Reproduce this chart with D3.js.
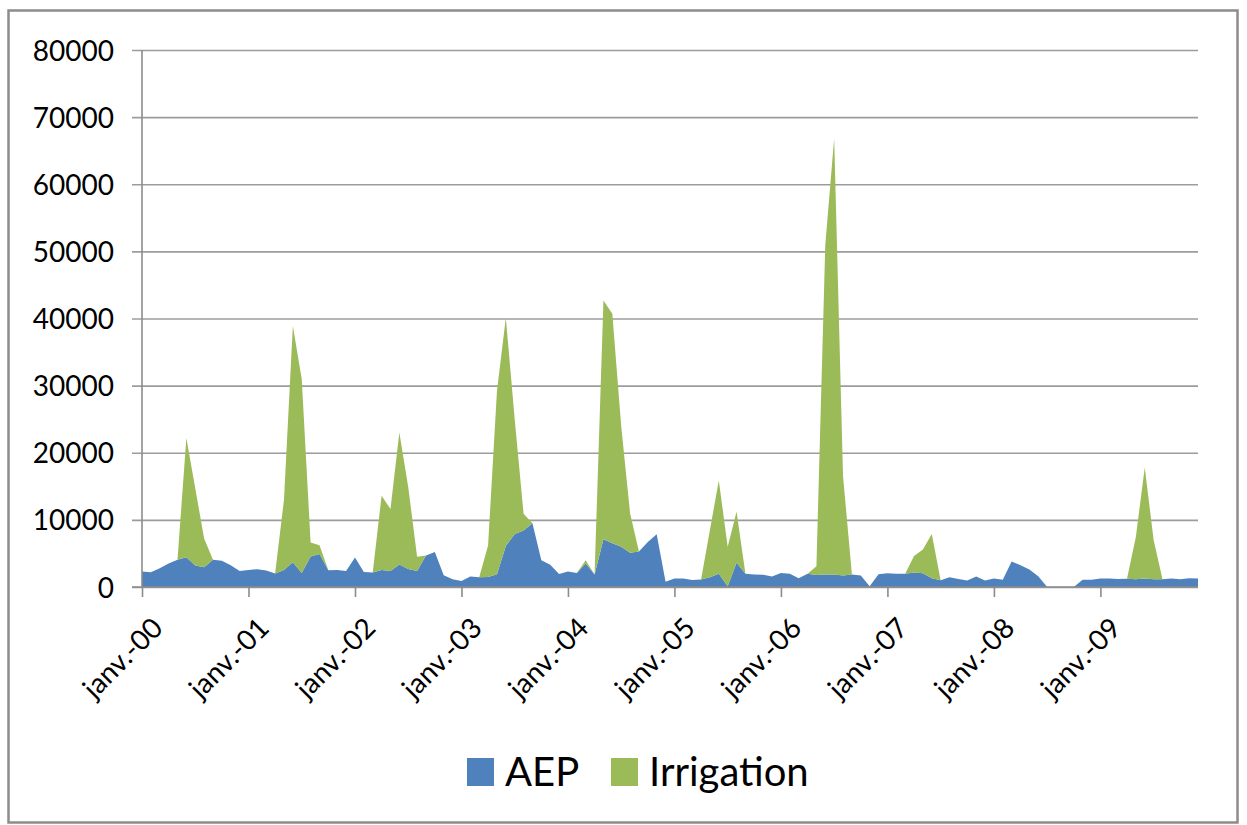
<!DOCTYPE html>
<html>
<head>
<meta charset="utf-8">
<script src="https://cdn.jsdelivr.net/npm/d3@7"></script>
<style>
  html, body { margin: 0; padding: 0; background: #fff; }
  svg text { font-family: Lato, "Open Sans", sans-serif; fill: #000; }
</style>
</head>
<body>
<svg id="chart" width="1247" height="825"></svg>
<script>
// Monthly volumes, January 2000 to December 2009 (one value per month)
const aep = [
  2300, 2200, 2800, 3500, 4050, 4450, 3200, 2950, 4050, 3900, 3250, 2400,   // 2000
  2550, 2650, 2450, 2000, 2550, 3700, 2100, 4550, 4900, 2500, 2550, 2400,   // 2001
  4400, 2250, 2150, 2550, 2400, 3350, 2700, 2400, 4700, 5200, 1750, 1150,   // 2002
  900, 1550, 1450, 1480, 1900, 6100, 7900, 8400, 9500, 4000, 3300, 1950,    // 2003
  2300, 2100, 3500, 1850, 7100, 6500, 6000, 5100, 5300, 6700, 7850, 800,    // 2004
  1270, 1270, 1050, 1100, 1450, 1980, 120, 3600, 1980, 1850, 1830, 1550,    // 2005
  2100, 1980, 1320, 1960, 1780, 1860, 1860, 1700, 1860, 1700, 100, 1900,   // 2006
  2050, 1970, 1980, 2150, 2060, 1300, 1000, 1450, 1180, 980, 1550, 980,     // 2007
  1270, 1080, 3800, 3250, 2600, 1600, 0, 0, 0, 0, 1080, 1080,               // 2008
  1270, 1270, 1180, 1230, 1150, 1250, 1150, 1150, 1250, 1150, 1300, 1250    // 2009
];
const irrigation = [
  0, 0, 0, 0, 0, 17750, 11500, 4280, 0, 0, 0, 0,                            // 2000
  0, 0, 0, 0, 10450, 35200, 28900, 2090, 1330, 0, 0, 0,                     // 2001
  0, 0, 0, 11050, 9230, 19650, 12200, 2100, 0, 0, 0, 0,                     // 2002
  0, 0, 0, 4720, 27300, 34000, 17100, 2500, 0, 0, 0, 0,                     // 2003
  0, 0, 500, 0, 35600, 34200, 18000, 5900, 0, 0, 0, 0,                      // 2004
  0, 0, 0, 0, 7050, 13900, 5880, 7600, 0, 0, 0, 0,                          // 2005
  0, 0, 0, 0, 1320, 49140, 65000, 14800, 0, 0, 0, 0,                        // 2006
  0, 0, 0, 2450, 3540, 6600, 0, 0, 0, 0, 0, 0,                              // 2007
  0, 0, 0, 0, 0, 0, 0, 0, 0, 0, 0, 0,                                       // 2008
  0, 0, 0, 0, 6350, 16550, 5850, 0, 0, 0, 0, 0                              // 2009
];
const seriesNames = ["AEP", "Irrigation"];
const seriesColors = ["#4f81bd", "#9bbb59"];
const yearLabels = ["janv.-00", "janv.-01", "janv.-02", "janv.-03", "janv.-04",
                    "janv.-05", "janv.-06", "janv.-07", "janv.-08", "janv.-09"];
const yTicks = [0, 10000, 20000, 30000, 40000, 50000, 60000, 70000, 80000];

const svg = d3.select("#chart");

// outer chart frame
svg.append("rect")
  .attr("x", 8.5).attr("y", 10.5)
  .attr("width", 1229).attr("height", 812)
  .attr("fill", "#fff")
  .attr("stroke", "#8c8c8c").attr("stroke-width", 2.5);

const rows = aep.map((v, i) => ({ i, AEP: v, Irrigation: irrigation[i] }));

const x = d3.scaleLinear().domain([0, aep.length - 1]).range([142, 1198]);
const y = d3.scaleLinear().domain([0, 80000]).range([587, 50]);

// horizontal gridlines with left tick marks
const yAxis = d3.axisLeft(y)
  .tickValues(yTicks)
  .tickSize(-(1198 - 142))
  .tickPadding(28)
  .tickFormat(d3.format("d"));
const gy = svg.append("g").attr("transform", "translate(142,0)").call(yAxis);
gy.select(".domain").remove();
gy.selectAll(".tick line")
  .attr("x1", -10)
  .attr("stroke", "#9c9c9c").attr("stroke-width", 1.6);
gy.selectAll(".tick text")
  .attr("font-size", 28)
  .attr("dy", "0.36em");

// stacked areas
const stacked = d3.stack().keys(seriesNames)(rows);
const area = d3.area()
  .x(d => x(d.data.i))
  .y0(d => y(d[0]))
  .y1(d => y(d[1]));
svg.append("g")
  .selectAll("path")
  .data(stacked)
  .join("path")
  .attr("d", area)
  .attr("fill", (d, k) => seriesColors[k]);

// vertical axis line
svg.append("line")
  .attr("x1", 142).attr("x2", 142)
  .attr("y1", y(80000)).attr("y2", y(0))
  .attr("stroke", "#8c8c8c").attr("stroke-width", 1.6);

// bottom axis with yearly ticks
const yearIdx = yearLabels.map((_, k) => k * 12);
const xAxis = d3.axisBottom(x)
  .tickValues(yearIdx)
  .tickSize(10)
  .tickFormat((d, k) => yearLabels[k]);
const gx = svg.append("g").attr("transform", `translate(0,${y(0)})`).call(xAxis);
gx.select(".domain")
  .attr("d", `M132,0H${1198}`)
  .attr("stroke", "#8c8c8c").attr("stroke-width", 1.6);
gx.selectAll(".tick line").attr("stroke", "#8c8c8c").attr("stroke-width", 1.6);
gx.selectAll(".tick text")
  .attr("font-size", 28)
  .attr("text-anchor", "end")
  .attr("dy", "0.7em")
  .attr("transform", "translate(8,29) rotate(-45)")
  .attr("y", 0).attr("x", 0);

// legend
const legend = svg.append("g");
const legendX = [467, 611];
seriesNames.forEach((name, k) => {
  legend.append("rect")
    .attr("x", legendX[k]).attr("y", 758)
    .attr("width", 27).attr("height", 28)
    .attr("fill", seriesColors[k]);
  legend.append("text")
    .attr("x", legendX[k] + 38).attr("y", 786)
    .attr("font-size", 40)
    .text(name);
});
</script>
</body>
</html>
